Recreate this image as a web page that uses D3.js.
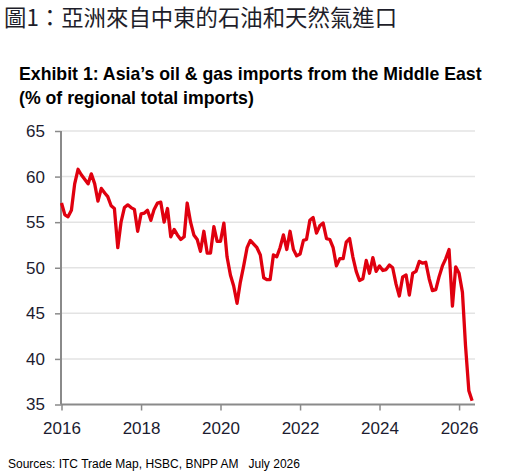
<!DOCTYPE html>
<html>
<head>
<meta charset="utf-8">
<script src="https://cdn.jsdelivr.net/npm/d3@7"></script>
<style>
  body { margin: 0; background: #fff; }
  svg { display: block; }
</style>
</head>
<body>
<div id="chart"></div>
<script>
// monthly share (%) of Asia's oil & gas imports from the Middle East, Jan 2016 onwards
var startYear = 2016;
var shareValues = [
  57.1, 55.8, 55.6, 56.3, 59.2, 60.8, 60.2, 59.7, 59.2, 60.3, 59.2, 57.3,
  58.7, 58.2, 57.8, 56.8, 56.5, 52.2, 55.0, 56.6, 56.9, 56.6, 56.4, 54.0,
  55.9, 56.0, 56.3, 55.2, 56.4, 57.1, 57.2, 55.0, 56.5, 53.4, 54.2, 53.6,
  53.1, 53.4, 57.1, 55.0, 53.6, 53.1, 51.8, 54.0, 51.6, 51.6, 54.5, 52.9,
  52.9, 54.9, 51.2, 49.2, 48.0, 46.1, 48.4, 50.2, 52.2, 53.0, 52.6, 52.2,
  51.4, 48.9, 48.7, 48.7, 51.4, 51.2, 52.2, 53.6, 52.0, 54.0, 52.0, 51.3,
  51.5, 53.0, 53.1, 55.2, 55.5, 53.8, 54.6, 54.9, 53.2, 53.1, 52.2, 50.2,
  51.0, 51.0, 52.8, 53.2, 51.2, 49.6, 48.6, 48.8, 50.8, 49.4, 51.1, 49.6,
  50.2, 49.7, 49.8, 50.3, 50.0, 48.2, 46.9, 49.0, 49.2, 47.0, 49.4, 49.6,
  50.7, 50.5, 50.6, 48.8, 47.5, 47.6, 49.0, 50.2, 51.0, 52.0, 45.8, 50.1,
  49.4, 47.3, 41.5, 36.5, 35.4
];
var yTicks = [35, 40, 45, 50, 55, 60, 65];
var xTickYears = [2016, 2018, 2020, 2022, 2024, 2026];

var titleText = "圖1：亞洲來自中東的石油和天然氣進口";
var subtitleLines = ["Exhibit 1: Asia\u2019s oil & gas imports from the Middle East",
                     "(% of regional total imports)"];
var sourceText = "Sources: ITC Trade Map, HSBC, BNPP AM\u00a0\u00a0\u00a0July 2026";

var svgWidth = 532, svgHeight = 475;
var plot = { left: 61, right: 475, top: 131, bottom: 404.5 };

var data = shareValues.map(function(v, i) {
  return { date: new Date(startYear, i, 1), value: v };
});

var svg = d3.select("#chart").append("svg")
  .attr("width", svgWidth)
  .attr("height", svgHeight);

var x = d3.scaleTime()
  .domain([new Date(startYear, 0, 1), new Date(startYear, shareValues.length, 1)])
  .range([plot.left + 0.5, plot.right + 0.5]);

var y = d3.scaleLinear()
  .domain([35, 65])
  .range([plot.bottom, plot.top]);

// titles
svg.append("text")
  .attr("x", 4).attr("y", 26)
  .style("font-family", "'Noto Sans CJK TC', sans-serif")
  .style("font-size", "22.4px")
  .style("fill", "#1e1e2a")
  .text(titleText);

svg.selectAll(".sub").data(subtitleLines).enter()
  .append("text")
  .attr("class", "sub")
  .attr("x", 19)
  .attr("y", function(d, i) { return 80 + i * 24; })
  .style("font-family", "'Liberation Sans', Arial, sans-serif")
  .style("font-weight", "bold")
  .style("font-size", "17.7px")
  .style("fill", "#000")
  .text(function(d) { return d; });

// gridlines
svg.append("g").selectAll("line")
  .data(yTicks.filter(function(t) { return t > 35; }))
  .enter().append("line")
  .attr("x1", plot.left).attr("x2", plot.right)
  .attr("y1", function(d) { return y(d); })
  .attr("y2", function(d) { return y(d); })
  .attr("stroke", "#e3e3e3")
  .attr("stroke-width", 1.5);

// y axis
var leftAxis = d3.axisLeft(y).tickValues(yTicks).tickSize(6).tickPadding(10);
var gy = svg.append("g")
  .attr("transform", "translate(" + plot.left + ",0)")
  .call(leftAxis);
gy.select(".domain").remove();
gy.append("line")
  .attr("x1", 0).attr("x2", 0)
  .attr("y1", plot.top).attr("y2", plot.bottom)
  .attr("stroke", "#8a8a8a").attr("stroke-width", 2);
gy.selectAll(".tick line").attr("stroke", "#8a8a8a").attr("stroke-width", 1.5);
gy.selectAll(".tick text")
  .style("font-family", "'Liberation Sans', Arial, sans-serif")
  .style("font-size", "17px")
  .style("fill", "#1c1c30");

// x axis
var bottomAxis = d3.axisBottom(x)
  .tickValues(xTickYears.map(function(yr) { return new Date(yr, 0, 1); }))
  .tickFormat(d3.timeFormat("%Y"))
  .tickSize(6).tickPadding(11);
var gx = svg.append("g")
  .attr("transform", "translate(0," + plot.bottom + ")")
  .call(bottomAxis);
gx.select(".domain").remove();
gx.append("line")
  .attr("x1", plot.left).attr("x2", plot.right)
  .attr("y1", 0).attr("y2", 0)
  .attr("stroke", "#8a8a8a").attr("stroke-width", 2);
gx.selectAll(".tick line").attr("stroke", "#8a8a8a").attr("stroke-width", 1.5);
gx.selectAll(".tick text")
  .style("font-family", "'Liberation Sans', Arial, sans-serif")
  .style("font-size", "17px")
  .style("fill", "#1c1c30");

// series line
var line = d3.line()
  .x(function(d) { return x(d.date); })
  .y(function(d) { return y(d.value); });

svg.append("path")
  .datum(data)
  .attr("d", line)
  .attr("fill", "none")
  .attr("stroke", "#e0000f")
  .attr("stroke-width", 3.3)
  .attr("stroke-linejoin", "round");

// source note
svg.append("text")
  .attr("x", 8).attr("y", 468)
  .style("font-family", "'Liberation Sans', Arial, sans-serif")
  .style("font-size", "12px")
  .style("fill", "#000")
  .text(sourceText);
</script>
</body>
</html>
